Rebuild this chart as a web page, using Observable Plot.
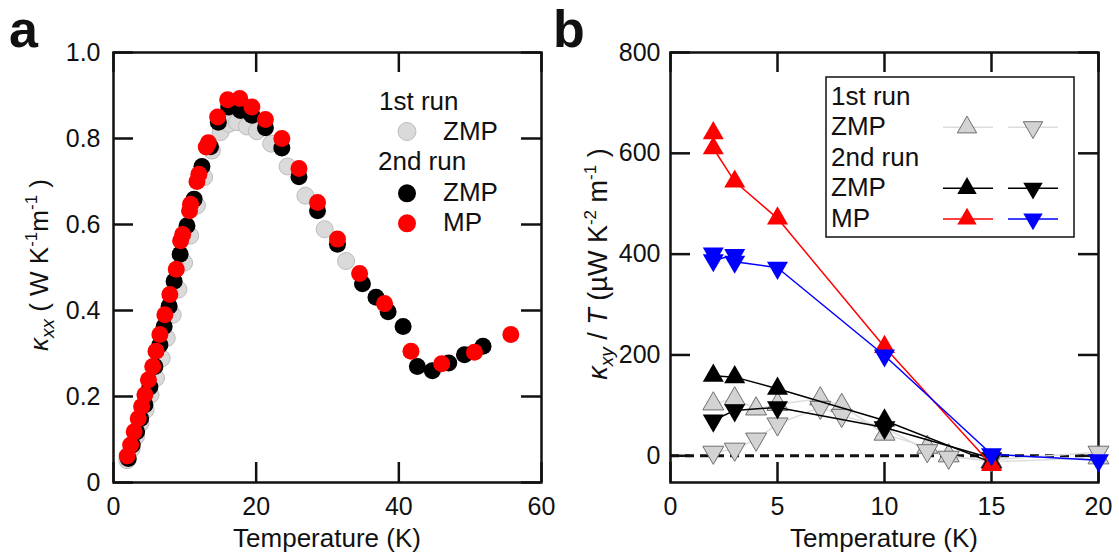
<!DOCTYPE html>
<html><head><meta charset="utf-8">
<script src="https://cdn.jsdelivr.net/npm/d3@7"></script>
<script src="https://cdn.jsdelivr.net/npm/@observablehq/plot@0.6"></script>
<style>
body{margin:0;background:#fff;}
#wrap{position:relative;width:1119px;height:559px;overflow:hidden;font-family:"Liberation Sans",Arial,sans-serif;}
#wrap svg{position:absolute;top:0;}
</style></head><body><div id="wrap"></div>
<script>
// ---------- Panel a data: kappa_xx vs T ----------
const run1ZmpT = [1.92,2.54,3.15,3.8,4.5,5.2,5.96,6.76,7.46,8.3,9.1,9.9,10.75,11.7,12.7,13.8,15.0,16.15,17.3,18.7,20.1,22.1,24.4,26.9,29.6,32.6];
const run1ZmpK = [0.052,0.078,0.107,0.138,0.169,0.204,0.243,0.289,0.336,0.39,0.449,0.511,0.574,0.644,0.71,0.772,0.815,0.834,0.838,0.828,0.817,0.788,0.735,0.667,0.589,0.515];
const run2ZmpT = [2.07,2.63,3.24,3.8,4.41,5.1,5.8,6.5,7.1,7.8,8.5,9.34,10.3,11.3,12.4,13.6,14.7,16.15,17.8,19.4,21.3,23.6,26.0,28.6,31.4,34.9,36.8,38.5,40.6,42.6,44.7,47.0,49.2,51.8];
const run2ZmpK = [0.056,0.087,0.118,0.149,0.181,0.222,0.27,0.32,0.363,0.41,0.468,0.531,0.597,0.659,0.735,0.781,0.838,0.873,0.865,0.854,0.825,0.778,0.711,0.632,0.554,0.462,0.431,0.397,0.363,0.27,0.26,0.278,0.297,0.317];
const run2MpT = [1.92,2.4,2.9,3.47,3.94,4.4,4.9,5.5,5.96,6.5,7.2,7.9,8.8,9.4,9.7,10.66,10.8,11.7,11.97,13.0,13.3,14.6,16.0,17.7,19.4,21.3,23.6,26.0,28.6,31.4,34.5,38.0,41.7,46.0,50.6,55.7];
const run2MpK = [0.0615,0.087,0.118,0.149,0.177,0.204,0.239,0.27,0.305,0.344,0.39,0.437,0.496,0.562,0.577,0.632,0.647,0.70,0.717,0.78,0.79,0.85,0.89,0.893,0.873,0.844,0.80,0.73,0.651,0.566,0.486,0.416,0.305,0.276,0.303,0.344];
const xTicksA = [0,20,40,60];
const xLabelsA = ["0","20","40","60"];
const yTicksA = [0,0.2,0.4,0.6,0.8,1.0];
const yLabelsA = ["0","0.2","0.4","0.6","0.8","1.0"];

// ---------- Panel b data: kappa_xy/T vs T ----------
const r1UpT = [2,3,4,5,7,8,10,12,13,15,20];
const r1UpV = [103,113,93,102,113,100,43,17,0,-12,-4];
const r1DnT = [2,3,4,5,7,8,10,12,13,15,20];
const r1DnV = [7,13,33,63,96,80,56,10,-3,-8,7];
const r2ZmpUpT = [2,3,5,10,15];
const r2ZmpUpV = [159,156,133,70,-13];
const r2ZmpDnT = [2,3,5,10,15];
const r2ZmpDnV = [70,90,96,56,-5];
const r2MpUpT = [2,2,3,5,10,15];
const r2MpUpV = [640,610,544,471,216,-18];
const r2MpDnT = [2,2,3,3,5,10,15,20];
const r2MpDnV = [401,388,398,385,373,199,3,-9];
const xTicksB = [0,5,10,15,20];
const xLabelsB = ["0","5","10","15","20"];
const yTicksB = [0,200,400,600,800];
const yLabelsB = ["0","200","400","600","800"];

const zip = (xs, ys) => xs.map((x, i) => ({x, y: ys[i]}));

const H = 559, mT = 52, mB = 77, innerH = H - mT - mB;
const FONT = "Liberation Sans, Arial, sans-serif";
const INK = "#111";

function panel({width, mL, mR, xDomain, yDomain, xTicks, xLabels, yTicks, yLabels, yPad, marks}) {
  const innerW = width - mL - mR;
  return Plot.plot({
    width, height: H, marginLeft: mL, marginRight: mR, marginTop: mT, marginBottom: mB,
    style: {fontFamily: FONT, fontSize: "25px", color: INK, background: "transparent", overflow: "visible"},
    x: {domain: xDomain}, y: {domain: yDomain},
    marks: [
      Plot.tickX(xTicks, {x: d => d, insetTop: innerH - 20, stroke: INK, strokeWidth: 2.5}),
      Plot.tickX(xTicks, {x: d => d, insetBottom: innerH - 20, stroke: INK, strokeWidth: 2.5}),
      Plot.tickY(yTicks, {y: d => d, insetRight: innerW - 20, stroke: INK, strokeWidth: 2.5}),
      Plot.tickY(yTicks, {y: d => d, insetLeft: innerW - 20, stroke: INK, strokeWidth: 2.5}),
      Plot.frame({stroke: INK, strokeWidth: 2.5}),
      Plot.axisX({ticks: xTicks, tickFormat: d => xLabels[xTicks.indexOf(d)], tickSize: 0, tickPadding: 15, label: null, fontSize: 25}),
      Plot.axisY({ticks: yTicks, tickFormat: d => yLabels[yTicks.indexOf(d)], tickSize: 0, tickPadding: yPad, label: null, fontSize: 25}),
      ...marks
    ]
  });
}

const wrap = document.getElementById("wrap");

const R = 8.5;
const svgA = panel({
  width: 559, mL: 113, mR: 18, xDomain: [0, 60], yDomain: [0, 1],
  xTicks: xTicksA, xLabels: xLabelsA, yTicks: yTicksA, yLabels: yLabelsA, yPad: 13,
  marks: [
    Plot.dot(zip(run1ZmpT, run1ZmpK), {x: "x", y: "y", r: R, fill: "#dadada", stroke: "#bcbcbc", strokeWidth: 1}),
    Plot.dot(zip(run2ZmpT, run2ZmpK), {x: "x", y: "y", r: R, fill: "#000", stroke: "none"}),
    Plot.dot(zip(run2MpT, run2MpK), {x: "x", y: "y", r: R, fill: "#ff0000", stroke: "none"})
  ]
});
svgA.style.left = "0px";
wrap.appendChild(svgA);

const TR = 7.8;
const svgB = panel({
  width: 560, mL: 111, mR: 21, xDomain: [0, 20], yDomain: [-53, 800],
  xTicks: xTicksB, xLabels: xLabelsB, yTicks: yTicksB, yLabels: yLabelsB, yPad: 10,
  marks: [
    Plot.ruleY([0], {stroke: INK, strokeWidth: 3, strokeDasharray: "9,6"}),
    Plot.line(zip(r1UpT, r1UpV), {x: "x", y: "y", stroke: "#dddddd", strokeWidth: 1.5}),
    Plot.line(zip(r1DnT, r1DnV), {x: "x", y: "y", stroke: "#dddddd", strokeWidth: 1.5}),
    Plot.dot(zip(r1UpT, r1UpV), {x: "x", y: "y", r: TR, symbol: "triangle", fill: "#d3d3d3", stroke: "#6e6e6e", strokeWidth: 1}),
    Plot.dot(zip(r1DnT, r1DnV), {x: "x", y: "y", r: TR, symbol: "triangle", rotate: 180, fill: "#d3d3d3", stroke: "#6e6e6e", strokeWidth: 1}),
    Plot.line(zip(r2ZmpUpT, r2ZmpUpV), {x: "x", y: "y", stroke: "#000", strokeWidth: 1.5}),
    Plot.line(zip(r2ZmpDnT, r2ZmpDnV), {x: "x", y: "y", stroke: "#000", strokeWidth: 1.5}),
    Plot.dot(zip(r2ZmpUpT, r2ZmpUpV), {x: "x", y: "y", r: TR, symbol: "triangle", fill: "#000", stroke: "none"}),
    Plot.dot(zip(r2ZmpDnT, r2ZmpDnV), {x: "x", y: "y", r: TR, symbol: "triangle", rotate: 180, fill: "#000", stroke: "none"}),
    Plot.line(zip(r2MpUpT, r2MpUpV), {x: "x", y: "y", stroke: "#ff0000", strokeWidth: 1.5}),
    Plot.dot(zip(r2MpUpT, r2MpUpV), {x: "x", y: "y", r: TR, symbol: "triangle", fill: "#ff0000", stroke: "none"}),
    Plot.line(zip(r2MpDnT, r2MpDnV), {x: "x", y: "y", stroke: "#0000ff", strokeWidth: 1.5}),
    Plot.dot(zip(r2MpDnT, r2MpDnV), {x: "x", y: "y", r: TR, symbol: "triangle", rotate: 180, fill: "#0000ff", stroke: "none"})
  ]
});
svgB.style.left = "559px";
wrap.appendChild(svgB);

// ---------- Overlay: panel letters, axis titles, legends ----------
const ov = d3.select(wrap).append("svg")
  .attr("width", 1119).attr("height", 559)
  .style("left", "0px").style("pointer-events", "none")
  .attr("font-family", FONT).attr("fill", INK);

ov.append("text").attr("x", 9).attr("y", 47).attr("font-size", 52).attr("font-weight", "bold").text("a");
ov.append("text").attr("x", 553).attr("y", 47).attr("font-size", 52).attr("font-weight", "bold").text("b");

ov.append("text").attr("x", 327).attr("y", 547).attr("font-size", 26).attr("text-anchor", "middle").text("Temperature (K)");
ov.append("text").attr("x", 884).attr("y", 547).attr("font-size", 26).attr("text-anchor", "middle").text("Temperature (K)");

function richText(sel, parts) {
  parts.forEach(p => {
    const t = sel.append("tspan").text(p.t);
    if (p.it) t.attr("font-style", "italic");
    if (p.fs) t.attr("font-size", p.fs);
    if (p.dy) t.attr("dy", p.dy);
  });
}
const yla = ov.append("text").attr("transform", "translate(48,265) rotate(-90)")
  .attr("font-size", 26).attr("text-anchor", "middle");
richText(yla, [
  {t: "κ", it: true}, {t: "xx", it: true, fs: 19, dy: 6},
  {t: " ( W K", dy: -6}, {t: "-1", fs: 17, dy: -11},
  {t: "m", dy: 11}, {t: "-1", fs: 17, dy: -11}, {t: " )", dy: 11}
]);
const ylb = ov.append("text").attr("transform", "translate(607,264) rotate(-90)")
  .attr("font-size", 27).attr("text-anchor", "middle");
richText(ylb, [
  {t: "κ", it: true}, {t: "xy", it: true, fs: 19, dy: 6},
  {t: " / ", dy: -6}, {t: "T", it: true}, {t: " (µW K"}, {t: "-2", fs: 17, dy: -11},
  {t: " m", dy: 11}, {t: "-1", fs: 17, dy: -11}, {t: " )", dy: 11}
]);

// Legend a
const LA = [
  {t: "1st run", x: 379, y: 110},
  {t: "ZMP", x: 443, y: 140},
  {t: "2nd run", x: 378, y: 170},
  {t: "ZMP", x: 443, y: 201},
  {t: "MP", x: 443, y: 231}
];
LA.forEach(d => ov.append("text").attr("x", d.x).attr("y", d.y).attr("font-size", 26).text(d.t));
ov.append("circle").attr("cx", 407).attr("cy", 131.5).attr("r", 9).attr("fill", "#dadada").attr("stroke", "#bcbcbc");
ov.append("circle").attr("cx", 407).attr("cy", 193.3).attr("r", 9).attr("fill", "#000");
ov.append("circle").attr("cx", 407).attr("cy", 223.3).attr("r", 9).attr("fill", "#ff0000");

// Legend b
ov.append("rect").attr("x", 826).attr("y", 77).attr("width", 248).attr("height", 160)
  .attr("fill", "none").attr("stroke", INK).attr("stroke-width", 1.5);
const LB = [
  {t: "1st run", y: 105}, {t: "ZMP", y: 135}, {t: "2nd run", y: 166}, {t: "ZMP", y: 196}, {t: "MP", y: 227}
];
LB.forEach(d => ov.append("text").attr("x", 831).attr("y", d.y).attr("font-size", 26).text(d.t));
const tri = d3.symbol(d3.symbolTriangle, Math.PI * 7.2 * 7.2)();
const legRows = [
  {y: 127.3, line: "#dddddd", fill: "#d3d3d3", stroke: "#6e6e6e"},
  {y: 188.3, line: "#000", fill: "#000", stroke: "none"},
  {y: 219, line: "#ff0000", fill: "#ff0000", stroke: "none", fill2: "#0000ff", line2: "#0000ff"}
];
legRows.forEach(r => {
  ov.append("line").attr("x1", 943).attr("x2", 993).attr("y1", r.y).attr("y2", r.y).attr("stroke", r.line).attr("stroke-width", 1.5);
  ov.append("line").attr("x1", 1008).attr("x2", 1058).attr("y1", r.y).attr("y2", r.y).attr("stroke", r.line2 || r.line).attr("stroke-width", 1.5);
  ov.append("path").attr("d", tri).attr("transform", `translate(967,${r.y})`).attr("fill", r.fill).attr("stroke", r.stroke);
  ov.append("path").attr("d", tri).attr("transform", `translate(1033,${r.y}) rotate(180)`).attr("fill", r.fill2 || r.fill).attr("stroke", r.stroke);
});
</script></body></html>
